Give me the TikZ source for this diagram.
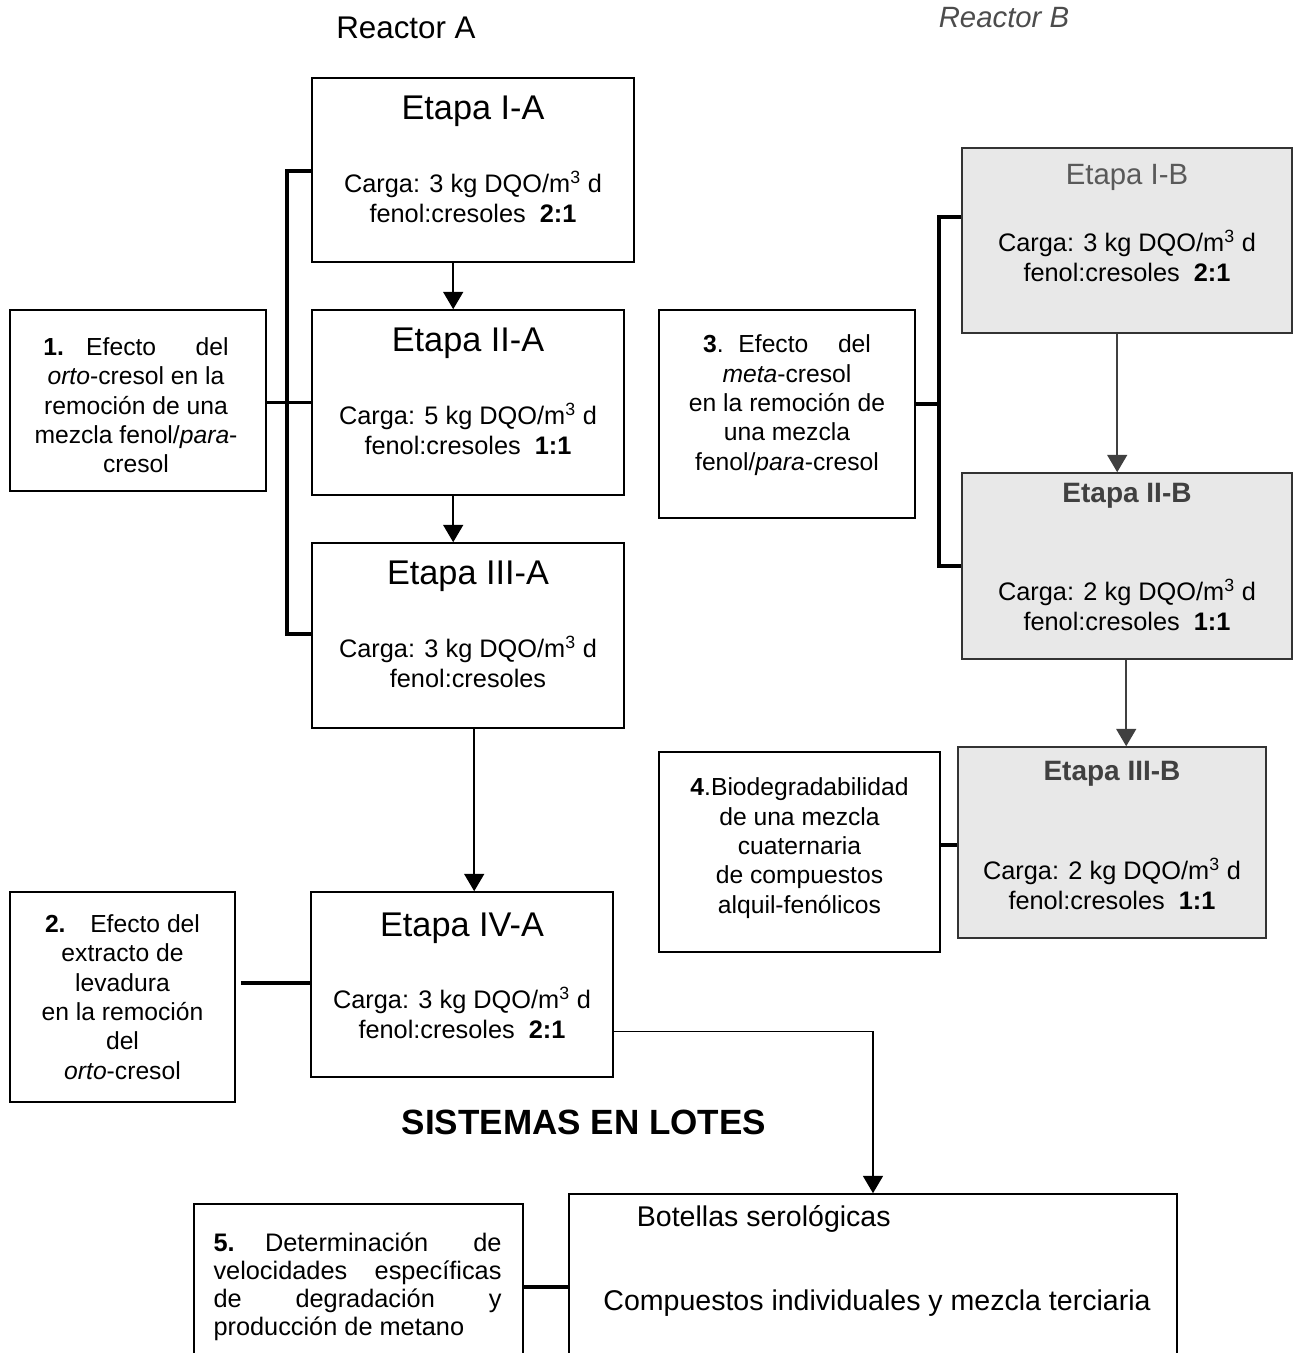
\documentclass[tikz,border=0pt]{standalone}
\usepackage{fontspec}
\setmainfont{Liberation Sans}
\usetikzlibrary{calc, fit, arrows.meta}

\begin{document}
\begin{tikzpicture}[x=0.75pt, y=-0.75pt]
    \tikzstyle{stage} = [rectangle, draw, line width=1.2pt, inner sep=0pt]
    \tikzstyle{stage_b} = [stage, draw=black!80, fill=black!9]
    \tikzstyle{note} = [rectangle, draw, line width=1.2pt, inner sep=0pt]
    \tikzstyle{title_a} = [font=\fontsize{25.7pt}{30pt}\selectfont]
    \tikzstyle{title_b} = [font=\fontsize{21pt}{25pt}\selectfont\bfseries, text=black!75]
    \tikzstyle{load} = [align=center, font=\fontsize{19pt}{23pt}\selectfont]
    \tikzstyle{note_text} = [align=center, font=\fontsize{18.5pt}{22pt}\selectfont]
    \tikzstyle{line} = [draw, line width=1.1pt, -{Triangle[length=13pt, width=15pt]}]
    \tikzstyle{gray_line} = [line, draw=black!75]
    \tikzstyle{bracket_line} = [draw, line width=2.6pt]

    \useasboundingbox (0,0) rectangle (1294,1353);
    \clip (0,0) rectangle (1294,1353);

    \node [font=\fontsize{23.5pt}{27pt}\selectfont] (reactor_a) at (406,28) {Reactor A};
    \node [font=\fontsize{22pt}{26pt}\selectfont\itshape, text=black!70] (reactor_b) at (1004,18) {Reactor B};

    % reactor A
    \node [stage, fit={(312,78) (634,262)}] (stage_ia) {};
    \node [stage, fit={(312,310) (624,495)}] (stage_iia) {};
    \node [stage, fit={(312,543) (624,728)}] (stage_iiia) {};
    \node [stage, fit={(311,892) (613,1077)}] (stage_iva) {};

    \node [title_a] (title_ia) at ($(stage_ia.north)+(0,34)$) {Etapa I-A};
    \node [load] (load_ia) at ($(stage_ia.north)+(0,120)$) {Carga: 3 kg DQO/m\textsuperscript{3} d\\fenol:cresoles ~\textbf{2:1}};
    \node [title_a] (title_iia) at ($(stage_iia.north)+(0,34)$) {Etapa II-A};
    \node [load] (load_iia) at ($(stage_iia.north)+(0,120)$) {Carga: 5 kg DQO/m\textsuperscript{3} d\\fenol:cresoles ~\textbf{1:1}};
    \node [title_a] (title_iiia) at ($(stage_iiia.north)+(0,34)$) {Etapa III-A};
    \node [load] (load_iiia) at ($(stage_iiia.north)+(0,120)$) {Carga: 3 kg DQO/m\textsuperscript{3} d\\fenol:cresoles};
    \node [title_a] (title_iva) at ($(stage_iva.north)+(0,37)$) {Etapa IV-A};
    \node [load] (load_iva) at ($(stage_iva.north)+(0,122)$) {Carga: 3 kg DQO/m\textsuperscript{3} d\\fenol:cresoles ~\textbf{2:1}};

    % reactor B
    \node [stage_b, fit={(962,148) (1292,333)}] (stage_ib) {};
    \node [stage_b, fit={(962,473) (1292,659)}] (stage_iib) {};
    \node [stage_b, fit={(958,747) (1266,938)}] (stage_iiib) {};

    \node [font=\fontsize{22pt}{26pt}\selectfont, text=black!65] (title_ib) at ($(stage_ib.north)+(0,30)$) {Etapa I-B};
    \node [load] (load_ib) at ($(stage_ib.north)+(0,109)$) {Carga: 3 kg DQO/m\textsuperscript{3} d\\fenol:cresoles ~\textbf{2:1}};
    \node [title_b] (title_iib) at ($(stage_iib.north)+(0,24)$) {Etapa II-B};
    \node [load] (load_iib) at ($(stage_iib.north)+(0,133)$) {Carga: 2 kg DQO/m\textsuperscript{3} d\\fenol:cresoles ~\textbf{1:1}};
    \node [title_b] (title_iiib) at ($(stage_iiib.north)+(0,28)$) {Etapa III-B};
    \node [load] (load_iiib) at ($(stage_iiib.north)+(0,138)$) {Carga: 2 kg DQO/m\textsuperscript{3} d\\fenol:cresoles ~\textbf{1:1}};

    % notes
    \node [note, fit={(10,310) (266,491)}] (note_1) {};
    \node [note, fit={(10,892) (235,1102)}] (note_2) {};
    \node [note, fit={(659,310) (915,518)}] (note_3) {};
    \node [note, fit={(659,752) (940,952)}] (note_4) {};
    \node [note, fit={(194,1204) (523,1370)}] (note_5) {};
    \node [note, fit={(569,1194) (1177,1380)}] (batch) {};

    \node [note_text] (text_1) at ($(note_1)+(-2,5)$) {\textbf{1.}\hspace{0.9em}Efecto\hspace{1.6em}del\\\textit{orto}-cresol en la\\remoción de una\\mezcla fenol/\textit{para}-\\cresol};
    \node [note_text] (text_2) at (note_2) {\textbf{2.}\hspace{1em}Efecto del\\extracto de\\levadura\\en la remoción\\del\\\textit{orto}-cresol};
    \node [note_text] (text_3) at ($(note_3)+(0,-9)$) {\textbf{3}.\hspace{0.6em}Efecto\hspace{1.2em}del\\\textit{meta}-cresol\\en la remoción de\\una mezcla\\fenol/\textit{para}-cresol};
    \node [note_text] (text_4) at ($(note_4)+(0,-4)$) {\textbf{4}.Biodegradabilidad\\de una mezcla\\cuaternaria\\de compuestos\\alquil-fenólicos};
    \node [align=justify, text width=216pt, font=\fontsize{19pt}{21pt}\selectfont] (text_5) at ($(note_5)+(-1,0)$) {\textbf{5.}\hspace{1.2em}Determinación de\linebreak velocidades específicas\linebreak de degradación y\linebreak producción de metano};

    \node [font=\fontsize{26.3pt}{31pt}\selectfont\bfseries] (batch_head) at (584,1122) {SISTEMAS EN LOTES};
    \node [font=\fontsize{21.4pt}{25pt}\selectfont, anchor=west] (batch_title) at ($(batch.north west)+(64,26)$) {Botellas serológicas};
    \node [font=\fontsize{21.4pt}{25pt}\selectfont] (batch_text) at ($(batch.north)+(4,110)$) {Compuestos individuales y mezcla terciaria};

    % arrows
    \path [line] ($(stage_ia.south west)+(142,0)$) -- ($(stage_iia.north west)+(142,0)$);
    \path [line] ($(stage_iia.south west)+(142,0)$) -- ($(stage_iiia.north west)+(142,0)$);
    \path [line] ($(stage_iiia.south west)+(163,0)$) -- ($(stage_iva.north west)+(164,0)$);
    \path [gray_line] ($(stage_ib.south west)+(156,0)$) -- ($(stage_iib.north west)+(156,0)$);
    \path [gray_line] ($(stage_iib.south west)+(165,0)$) -- ($(stage_iiib.north west)+(169,0)$);
    \path [line] ($(stage_iva.east)+(0,47)$) -| (batch.north);

    % brackets
    \coordinate (brace_a) at ($(stage_ia.north west)+(-24,94)$);
    \path [bracket_line] (stage_ia.west |- brace_a) -- (brace_a) |- ($(stage_iiia.north west)+(0,92)$);
    \path [bracket_line] (note_1.east |- stage_iia.west) -- (stage_iia.west);

    \coordinate (brace_b) at ($(stage_ib.north west)+(-22,70)$);
    \path [bracket_line] (stage_ib.west |- brace_b) -- (brace_b) |- ($(stage_iib.north west)+(0,94)$);
    \coordinate (tick_3) at ($(note_3.east)+(0,-10)$);
    \path [bracket_line] (tick_3) -- (tick_3 -| brace_b);

    \coordinate (tick_4) at ($(note_4.east)+(0,-7)$);
    \path [bracket_line] (tick_4) -- (tick_4 -| stage_iiib.west);
    \coordinate (tick_2) at ($(note_2.east)+(5,-14)$);
    \path [bracket_line] (tick_2) -- (tick_2 -| stage_iva.west);
    \path [bracket_line] (note_5) -- (batch);
\end{tikzpicture}
\end{document}
